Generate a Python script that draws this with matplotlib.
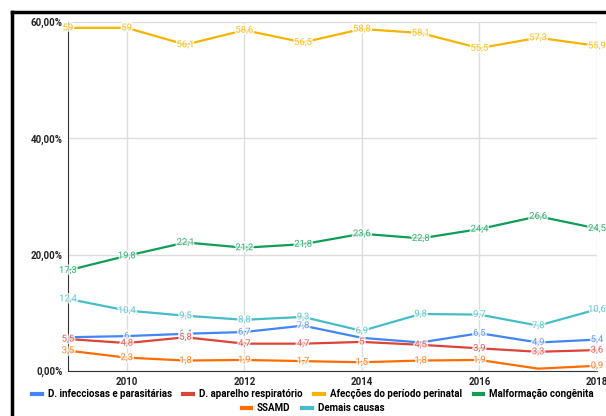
import numpy as np
import matplotlib.pyplot as plt
import matplotlib.patheffects as pe
from matplotlib.lines import Line2D

plt.rcParams['font.family'] = ['Roboto', 'DejaVu Sans']

anos = [2009, 2010, 2011, 2012, 2013, 2014, 2015, 2016, 2017, 2018]

infecciosas = [5.8, 6, 6.4, 6.7, 7.8, 5.7, 4.9, 6.5, 4.9, 5.4]
respiratorio = [5.5, 4.8, 5.8, 4.7, 4.7, 5, 4.5, 3.9, 3.3, 3.6]
perinatal = [59, 59, 56.1, 58.6, 56.5, 58.8, 58.1, 55.5, 57.3, 55.9]
malformacao = [17.3, 19.8, 22.1, 21.2, 21.8, 23.6, 22.8, 24.4, 26.6, 24.5]
ssamd = [3.5, 2.3, 1.8, 1.9, 1.7, 1.5, 1.8, 1.9, 0.4, 0.9]
demais = [12.4, 10.4, 9.5, 8.8, 9.3, 6.9, 9.8, 9.7, 7.8, 10.6]

# labels hidden in the reference (overlapping)
rotulos_ocultos = {'D. infecciosas e parasitárias': [0, 5, 6], 'SSAMD': [8]}

series = [
    ('D. infecciosas e parasitárias', infecciosas, '#4285F4'),
    ('D. aparelho respiratório', respiratorio, '#DB4437'),
    ('Afecções do período perinatal', perinatal, '#F4B400'),
    ('Malformação congênita', malformacao, '#0F9D58'),
    ('SSAMD', ssamd, '#FF6D01'),
    ('Demais causas', demais, '#46BDC6'),
]

fig = plt.figure(figsize=(6.06, 4.16), dpi=100)
ax = fig.add_axes([68 / 606, 1 - 371 / 416, (597 - 68) / 606, (371 - 22) / 416])

linhas = []
for nome, vals, cor in series:
    l, = ax.plot(anos, vals, color=cor, lw=1.6, label=nome, zorder=3)
    linhas.append(l)
    ocultos = rotulos_ocultos.get(nome, [])
    for i, (x, v) in enumerate(zip(anos, vals)):
        if i in ocultos:
            continue
        txt = ('%g' % v).replace('.', ',')
        ax.text(x, v, txt, ha='center', va='center', fontsize=6.8,
                color=cor, alpha=0.75, zorder=4, clip_on=False,
                path_effects=[pe.withStroke(linewidth=2.5, foreground='white')])

ax.set_xlim(2009, 2018)
ax.set_ylim(0, 60)
ax.set_xticks([2010, 2012, 2014, 2016, 2018])
ax.set_yticks([0, 20, 40, 60])
ax.set_yticklabels(['0,00%', '20,00%', '40,00%', '60,00%'])
ax.tick_params(length=0, labelsize=7, pad=4)
for lbl in ax.get_xticklabels() + ax.get_yticklabels():
    lbl.set_fontweight('bold')
    lbl.set_color('#222222')
ax.grid(True, color='#dddddd', lw=1)
for s in ['top', 'right']:
    ax.spines[s].set_visible(False)
ax.spines['left'].set_color('#333333')
ax.spines['bottom'].set_color('#333333')

leg_kw = dict(frameon=False, handlelength=1.0, handletextpad=0.6, columnspacing=1.2,
              prop={'weight': 'bold', 'size': 7}, borderpad=0, borderaxespad=0)
leg1 = fig.legend(linhas[:4], [s[0] for s in series[:4]], loc='center',
                  bbox_to_anchor=(313 / 606, 1 - 394 / 416), ncol=4, **leg_kw)
leg2 = fig.legend(linhas[4:], [s[0] for s in series[4:]], loc='center',
                  bbox_to_anchor=(313 / 606, 1 - 408 / 416), ncol=2, **leg_kw)
for leg in (leg1, leg2):
    for h in leg.legend_handles:
        h.set_linewidth(3)

# black frame
fig.add_artist(Line2D([12 / 606, 12 / 606], [0, 1 - 12 / 416], color='black', lw=2.5))
fig.add_artist(Line2D([12 / 606, 1], [1 - 12 / 416, 1 - 12 / 416], color='black', lw=2.5))

fig.savefig('out.png', dpi=100)
